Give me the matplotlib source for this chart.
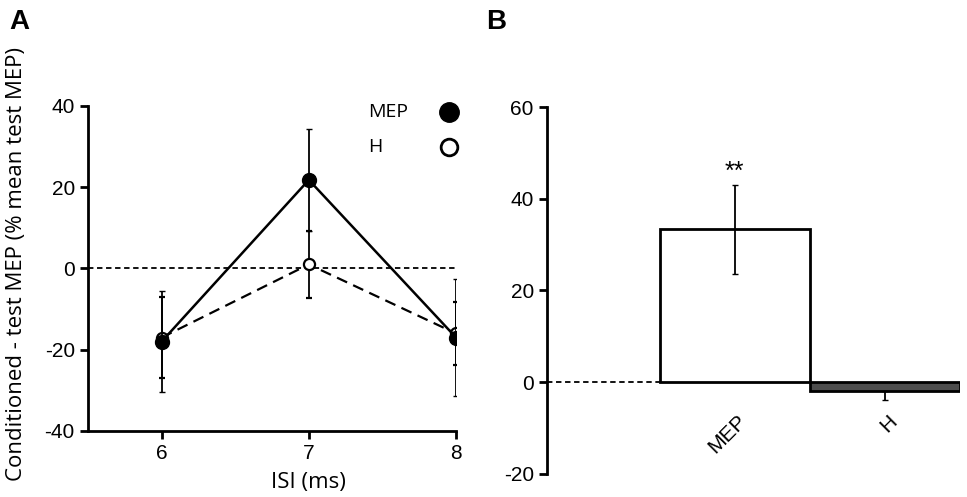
import matplotlib
matplotlib.use("Agg")
import matplotlib.pyplot as plt
import matplotlib.transforms as mtransforms

plt.rcParams["font.family"] = ["Liberation Sans", "DejaVu Sans"]
plt.rcParams["axes.unicode_minus"] = False

# Panel A data
isi = [6, 7, 8]
mep_vals = [-18.0, 21.8, -17.0]
mep_err = [12.5, 12.6, 14.4]
h_vals = [-17.0, 1.0, -16.0]
h_err = [10.0, 8.3, 7.7]

# Panel B data
bar_labels = ["MEP", "H"]
bar_vals = [33.3, -1.9]
bar_err = [9.7, 2.0]

LABFONT = "Open Sans"

fig = plt.figure(figsize=(9.67, 4.97), dpi=100)

# ---------- Panel A ----------
axA = fig.add_axes([0.091, 0.1328, 0.3806, 0.654])
axA.axhline(0, color="black", lw=1.3, ls=(0, (3, 2)), zorder=1)
axA.errorbar(isi, h_vals, yerr=h_err, color="black", lw=1.6, ls=(0, (5, 3)),
             marker="o", ms=8, mfc="white", mec="black", mew=1.6,
             ecolor="black", elinewidth=1.3, capsize=2, zorder=2)
axA.errorbar(isi, mep_vals, yerr=mep_err, color="black", lw=1.8, ls="-",
             marker="o", ms=10, mfc="black", mec="black",
             ecolor="black", elinewidth=1.3, capsize=2, zorder=3)
axA.set_xlim(5.5, 8.0)
axA.set_ylim(-40, 40)
axA.set_xticks(isi)
axA.set_yticks([-40, -20, 0, 20, 40])
for s in ["top", "right"]:
    axA.spines[s].set_visible(False)
for s in ["left", "bottom"]:
    axA.spines[s].set_linewidth(2)
axA.tick_params(width=2, length=6, labelsize=15, direction="out")
axA.set_xlabel("ISI (ms)", fontsize=16, family=LABFONT)
axA.xaxis.set_label_coords(0.6, -0.125)
axA.set_ylabel("Conditioned - test MEP (% mean test MEP)", fontsize=16,
               family=LABFONT)
axA.yaxis.set_label_coords(-0.165, 0.515)
# legend-like annotation
axA.text(7.4, 38.5, "MEP", fontsize=14, family=LABFONT, va="center", ha="left")
axA.text(7.4, 29.9, "H", fontsize=14, family=LABFONT, va="center", ha="left")
axA.plot([7.95], [38.5], "o", ms=14, mfc="black", mec="black", clip_on=False)
axA.plot([7.95], [29.9], "o", ms=12, mfc="white", mec="black", mew=2, clip_on=False)
fig.text(0.010, 0.955, "A", fontsize=20, fontweight="bold",
         va="center", ha="left")

# ---------- Panel B ----------
axB = fig.add_axes([0.5657, 0.0469, 0.4271, 0.7378])
xpos = [1, 2]
axB.plot([-0.25, 0.5], [0, 0], color="black", lw=1.3, ls=(0, (3, 2)), zorder=1)
axB.bar(xpos[0], bar_vals[0], width=1.0, color="white", edgecolor="black",
        lw=2, zorder=2)
axB.bar(xpos[1], bar_vals[1], width=1.0, color="#4d4d4d", edgecolor="black",
        lw=2, zorder=2)
axB.errorbar(xpos[0], bar_vals[0], yerr=bar_err[0], fmt="none", ecolor="black",
             elinewidth=1.3, capsize=2, zorder=3)
axB.errorbar(xpos[1], bar_vals[1], yerr=[[bar_err[1]], [0]], fmt="none",
             ecolor="black", elinewidth=1.3, capsize=2, zorder=3)
axB.text(xpos[0], bar_vals[0] + bar_err[0] + 0.3, "**", fontsize=18,
         ha="center", va="bottom")
axB.set_xlim(-0.25, 2.5)
axB.set_ylim(-20, 60)
axB.set_yticks([-20, 0, 20, 40, 60])
axB.set_xticks(xpos)
axB.set_xticklabels(bar_labels, rotation=45, ha="right", rotation_mode="anchor")
for s in ["top", "right", "bottom"]:
    axB.spines[s].set_visible(False)
axB.spines["left"].set_linewidth(2)
axB.tick_params(axis="y", width=2, length=6, labelsize=15)
axB.tick_params(axis="x", length=0, labelsize=15, pad=0)
offset = mtransforms.ScaledTranslation(0.02, 0.62, fig.dpi_scale_trans)
for t in axB.get_xticklabels():
    t.set_transform(t.get_transform() + offset)
fig.text(0.503, 0.955, "B", fontsize=20, fontweight="bold",
         va="center", ha="left")

fig.savefig("out.png", dpi=100)
